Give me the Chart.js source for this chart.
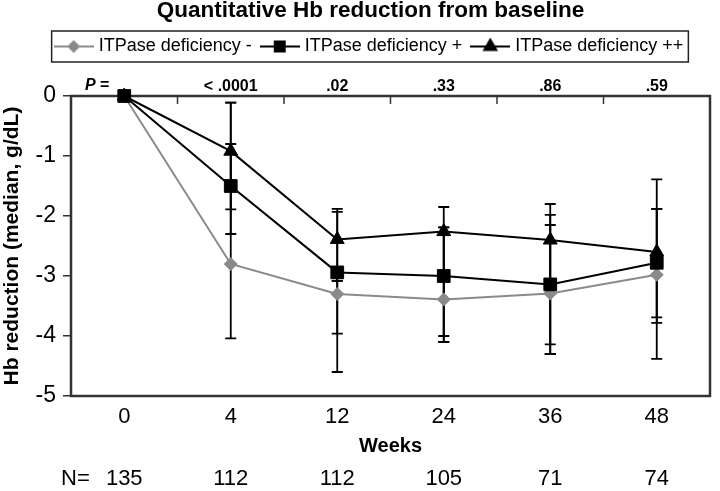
<!DOCTYPE html>
<html>
<head>
<meta charset="utf-8">
<script src="https://cdn.jsdelivr.net/npm/chart.js@4.4.1/dist/chart.umd.min.js"></script>
<style>
  html, body { margin: 0; padding: 0; background: #fff; }
  #wrap { width: 720px; height: 491px; }
</style>
</head>
<body>
<div id="wrap"><canvas id="chart"></canvas></div>
<script>
// weeks on the x axis, P values above the plot, N per visit below it
const weeks = ['0', '4', '12', '24', '36', '48'];
const pValues = ['', '< .0001', '.02', '.33', '.86', '.59'];
const nCounts = ['135', '112', '112', '105', '71', '74'];
const yTicks = [0, -1, -2, -3, -4, -5];

// median Hb reduction (g/dL)
const deficiencyMinus = [0, -2.8, -3.3, -3.39, -3.29, -2.98];
const deficiencyPlus = [0, -1.5, -2.94, -3.0, -3.14, -2.78];
const deficiencyPlusPlus = [0, -0.92, -2.39, -2.26, -2.4, -2.6];

// error bar ends
const minusLow = [null, -4.04, -4.6, -4.1, -4.3, -4.38];
const minusHigh = [null, -0.11, -3.08, -2.19, -2.15, -1.88];
const plusLow = [null, -2.3, -3.96, -4.1, -4.3, -3.78];
const plusHigh = [null, -0.8, -1.93, -2.19, -1.98, -1.88];
const plusPlusLow = [null, -1.89, -3.08, -4.0, -4.14, -3.69];
const plusPlusHigh = [null, -0.11, -1.88, -1.85, -1.8, -1.39];

const FONT = 'Liberation Sans, Arial, sans-serif';
Chart.defaults.font.family = FONT;
Chart.defaults.color = '#000';

// small line + marker pictures for the legend
function legendIcon(style, color, radius) {
  const c = document.createElement('canvas');
  c.width = 40; c.height = 18;
  const g = c.getContext('2d');
  g.strokeStyle = color; g.lineWidth = 2;
  g.beginPath(); g.moveTo(0, 9); g.lineTo(40, 9); g.stroke();
  g.fillStyle = color;
  Chart.helpers.drawPoint(g, { pointStyle: style, radius: radius, rotation: 0, borderWidth: 1 }, 20, 9);
  return c;
}
const legendIcons = [
  legendIcon('rectRot', '#8a8a8a', 5),
  legendIcon('rect', '#000', 7),
  legendIcon('triangle', '#000', 7)
];

const errorBars = {
  id: 'errorBars',
  beforeDatasetsDraw(chart) {
    const { ctx, chartArea: a, scales: { x, y } } = chart;
    ctx.save();
    // plot frame and the small ticks between categories on top
    ctx.strokeStyle = '#333';
    ctx.lineWidth = 2.5;
    ctx.strokeRect(a.left, a.top, a.right - a.left, a.bottom - a.top);
    ctx.lineWidth = 1.5;
    for (let i = 0; i < weeks.length - 1; i++) {
      const px = (x.getPixelForValue(i) + x.getPixelForValue(i + 1)) / 2;
      ctx.beginPath(); ctx.moveTo(px, a.top); ctx.lineTo(px, a.top + 8); ctx.stroke();
    }
    // error bars
    ctx.strokeStyle = '#000';
    ctx.lineWidth = 1.8;
    [[minusLow, minusHigh], [plusLow, plusHigh], [plusPlusLow, plusPlusHigh]].forEach(([lo, hi]) => {
      weeks.forEach((w, i) => {
        if (lo[i] == null) return;
        const px = x.getPixelForValue(i);
        const y1 = y.getPixelForValue(lo[i]);
        const y2 = y.getPixelForValue(hi[i]);
        ctx.beginPath();
        ctx.moveTo(px, y1); ctx.lineTo(px, y2);
        ctx.moveTo(px - 5.5, y1); ctx.lineTo(px + 5.5, y1);
        ctx.moveTo(px - 5.5, y2); ctx.lineTo(px + 5.5, y2);
        ctx.stroke();
      });
    });
    ctx.restore();
  },
  afterDraw(chart) {
    const { ctx, chartArea: a, legend } = chart;
    ctx.save();
    // box round the legend
    const hb = legend.legendHitBoxes;
    if (hb && hb.length) {
      const left = hb[0].left - 6;
      const last = hb[hb.length - 1];
      const right = last.left + last.width + 5;
      ctx.strokeStyle = '#222';
      ctx.lineWidth = 1.5;
      ctx.strokeRect(left, hb[0].top - 6.5, right - left, 31);
    }
    // "P =" and "N=" row headers
    ctx.fillStyle = '#000';
    ctx.textBaseline = 'middle';
    ctx.textAlign = 'left';
    ctx.font = 'italic bold 16px ' + FONT;
    ctx.fillText('P', a.left + 14, a.top - 10);
    const pw = ctx.measureText('P').width;
    ctx.font = 'bold 16px ' + FONT;
    ctx.fillText(' =', a.left + 14 + pw, a.top - 10);
    ctx.font = '22px ' + FONT;
    ctx.fillText('N=', a.left - 10, chart.scales.xN.top + 21);
    ctx.restore();
  }
};

const headerShift = {
  id: 'headerShift',
  afterLayout(chart) {
    [chart.titleBlock, chart.legend].forEach(b => {
      if (b) { b.left += 12; b.right += 12; }
    });
  }
};

new Chart(document.getElementById('chart'), {
  type: 'line',
  data: {
    labels: weeks,
    datasets: [
      {
        label: 'ITPase deficiency -',
        data: deficiencyMinus,
        borderColor: '#8a8a8a',
        backgroundColor: '#8a8a8a',
        borderWidth: 2,
        pointStyle: 'rectRot',
        pointRadius: 6.5,
        pointBorderWidth: 1,
        order: 2,
        clip: false
      },
      {
        label: 'ITPase deficiency +',
        data: deficiencyPlus,
        borderColor: '#000',
        backgroundColor: '#000',
        borderWidth: 2,
        pointStyle: 'rect',
        pointRadius: 9,
        pointBorderWidth: 1,
        order: 0,
        clip: false
      },
      {
        label: 'ITPase deficiency ++',
        data: deficiencyPlusPlus,
        borderColor: '#000',
        backgroundColor: '#000',
        borderWidth: 2,
        pointStyle: 'triangle',
        pointRadius: 8,
        pointBorderWidth: 1,
        order: 1,
        clip: false
      }
    ]
  },
  options: {
    responsive: true,
    maintainAspectRatio: false,
    animation: false,
    layout: { padding: { left: 0, right: 3, top: 0, bottom: 0 } },
    plugins: {
      title: {
        display: true,
        text: 'Quantitative Hb reduction from baseline',
        font: { size: 22.5, weight: 'bold', lineHeight: 1 },
        color: '#000',
        padding: { top: 0, bottom: 3 }
      },
      legend: {
        position: 'top',
        labels: {
          usePointStyle: true,
          pointStyleWidth: 32,
          padding: 12,
          font: { size: 18 },
          color: '#000',
          sort: (a, b) => a.datasetIndex - b.datasetIndex,
          generateLabels(chart) {
            const items = Chart.defaults.plugins.legend.labels.generateLabels(chart);
            items.forEach(it => { it.pointStyle = legendIcons[it.datasetIndex]; });
            return items;
          }
        }
      },
      tooltip: { enabled: false }
    },
    scales: {
      x: {
        type: 'category',
        position: 'bottom',
        offset: true,
        weight: 0,
        grid: { display: false, drawTicks: false },
        border: { display: false },
        ticks: { font: { size: 22 }, color: '#000', padding: 7.8, maxRotation: 0 },
        title: {
          display: true,
          text: 'Weeks',
          font: { size: 20, weight: 'bold' },
          color: '#000',
          padding: { top: 0, bottom: 0 }
        },
        afterFit(scale) { scale.height = 62; }
      },
      xN: {
        type: 'category',
        labels: nCounts,
        position: 'bottom',
        offset: true,
        weight: 1,
        grid: { display: false, drawTicks: false },
        border: { display: false },
        ticks: { font: { size: 22 }, color: '#000', padding: 7.8, maxRotation: 0 },
        afterFit(scale) { scale.height = 33; }
      },
      xP: {
        type: 'category',
        labels: pValues,
        position: 'top',
        offset: true,
        grid: { display: false, drawTicks: false },
        border: { display: false },
        ticks: { font: { size: 16, weight: 'bold' }, color: '#000', padding: 0, maxRotation: 0 },
        afterFit(scale) {
          const c = scale.chart;
          const used = (c.titleBlock ? c.titleBlock.height : 0) + (c.legend ? c.legend.height : 0);
          scale.height = Math.max(10, 96 - used);
        }
      },
      y: {
        min: Math.min(...yTicks),
        max: Math.max(...yTicks),
        afterBuildTicks(scale) { scale.ticks = yTicks.map(v => ({ value: v })); },
        grid: { display: true, drawOnChartArea: false, drawTicks: true, tickLength: 8, color: '#333', lineWidth: 1.5 },
        border: { display: false },
        ticks: { font: { size: 23 }, color: '#000', padding: 7 },
        title: {
          display: true,
          text: 'Hb reduction (median, g/dL)',
          font: { size: 21, weight: 'bold' },
          color: '#000',
          padding: { top: 0, bottom: 0 }
        },
        afterFit(scale) { scale.width = 71; }
      }
    }
  },
  plugins: [errorBars, headerShift]
});
</script>
</body>
</html>
